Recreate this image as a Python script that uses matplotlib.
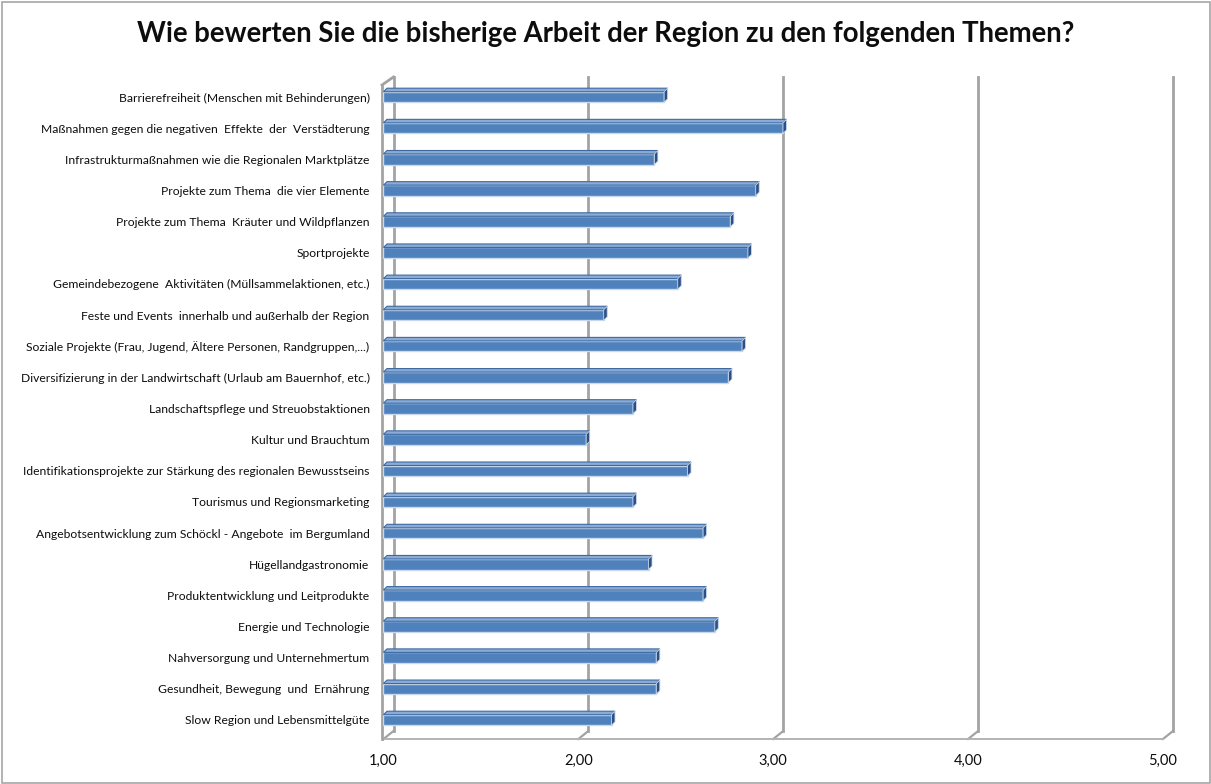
import matplotlib
matplotlib.use("Agg")
import matplotlib.pyplot as plt
from matplotlib.patches import Polygon, Rectangle

plt.rcParams['font.family'] = ['Lato', 'DejaVu Sans']

themen = [
    "Barrierefreiheit (Menschen mit Behinderungen)",
    "Maßnahmen gegen die negativen  Effekte  der  Verstädterung",
    "Infrastrukturmaßnahmen wie die Regionalen Marktplätze",
    "Projekte zum Thema  die vier Elemente",
    "Projekte zum Thema  Kräuter und Wildpflanzen",
    "Sportprojekte",
    "Gemeindebezogene  Aktivitäten (Müllsammelaktionen, etc.)",
    "Feste und Events  innerhalb und außerhalb der Region",
    "Soziale Projekte (Frau, Jugend, Ältere Personen, Randgruppen,...)",
    "Diversifizierung in der Landwirtschaft (Urlaub am Bauernhof, etc.)",
    "Landschaftspflege und Streuobstaktionen",
    "Kultur und Brauchtum",
    "Identifikationsprojekte zur Stärkung des regionalen Bewusstseins",
    "Tourismus und Regionsmarketing",
    "Angebotsentwicklung zum Schöckl - Angebote  im Bergumland",
    "Hügellandgastronomie",
    "Produktentwicklung und Leitprodukte",
    "Energie und Technologie",
    "Nahversorgung und Unternehmertum",
    "Gesundheit, Bewegung  und  Ernährung",
    "Slow Region und Lebensmittelgüte",
]
bewertung = [2.44, 3.05, 2.39, 2.91, 2.78, 2.87, 2.51, 2.13, 2.84, 2.77, 2.28,
             2.04, 2.56, 2.28, 2.64, 2.36, 2.64, 2.70, 2.40, 2.40, 2.17]
xticks = [1, 2, 3, 4, 5]

W, H = 1211, 784
fig = plt.figure(figsize=(W / 100, H / 100), dpi=100)
fig.patches.append(Rectangle((1.5 / W, 1.5 / H), 1 - 3 / W, 1 - 3 / H, transform=fig.transFigure,
                             fill=False, edgecolor='#a6a6a6', linewidth=1.2))

# front plane of the plot area in pixels
x0, x1 = 383.5, 1163.0
ybot, ytop = 739, 85
ax = fig.add_axes([x0 / W, (H - ybot) / H, (x1 - x0) / W, (ybot - ytop) / H])

n = len(themen)
ypos = list(range(n - 1, -1, -1))
ylo, yhi = -0.61, 20.385
ax.set_xlim(1, 5)
ax.set_ylim(ylo, yhi)

px_x = (x1 - x0) / 4
px_y = (ybot - ytop) / (yhi - ylo)

# depth offset of the back wall and of the bars
gx, gy = 10 / px_x, 8 / px_y
bx, by = 3.5 / px_x, 3.5 / px_y

grid_c = '#a3a3a3'
for v in xticks:
    ax.plot([v + gx, v + gx], [ylo + gy, yhi + gy], color=grid_c, lw=2.0, clip_on=False, zorder=1)
    ax.plot([v, v + gx], [ylo, ylo + gy], color=grid_c, lw=1.6, clip_on=False, zorder=1)
ax.plot([1, 5], [ylo, ylo], color='#b3b3b3', lw=1.4, clip_on=False, zorder=1)
ax.plot([1 - 1.5 / px_x] * 2, [ylo, yhi], color=grid_c, lw=2.0, clip_on=False, zorder=1)
ax.plot([1 - 1.5 / px_x, 1 + gx], [yhi, yhi + gy], color=grid_c, lw=2.0, clip_on=False, zorder=1)

h = 0.34
for y, v in zip(ypos, bewertung):
    ax.barh(y, v - 1, left=1, height=h, color='#4f81bd', edgecolor='#c9d8ec', linewidth=1.0, zorder=3)
    top = [(1, y + h / 2), (v, y + h / 2), (v + bx, y + h / 2 + by), (1 + bx, y + h / 2 + by)]
    ax.add_patch(Polygon(top, closed=True, facecolor='#8aabd6', edgecolor='#3e6aa1', linewidth=0.8, zorder=3))
    side = [(v, y - h / 2), (v + bx, y - h / 2 + by), (v + bx, y + h / 2 + by), (v, y + h / 2)]
    ax.add_patch(Polygon(side, closed=True, facecolor='#2c5085', edgecolor='#c9d8ec', linewidth=0.6, zorder=3))

ax.set_yticks(ypos)
ax.set_yticklabels(themen, fontsize=8.7, color='#0d0d0d')
ax.set_xticks(xticks)
ax.set_xticklabels([f"{v:.2f}".replace('.', ',') for v in xticks], fontsize=10.5, color='#0d0d0d')
ax.tick_params(axis='y', length=0, pad=10)
ax.tick_params(axis='x', length=0, pad=11)
for s in ax.spines.values():
    s.set_visible(False)
ax.patch.set_visible(False)

fig.text(606 / W, 1 - 34 / H, "Wie bewerten Sie die bisherige Arbeit der Region zu den folgenden Themen?",
         ha='center', va='center', fontsize=19.8, fontweight='bold', color='#0d0d0d')

fig.savefig("out.png", dpi=100)
